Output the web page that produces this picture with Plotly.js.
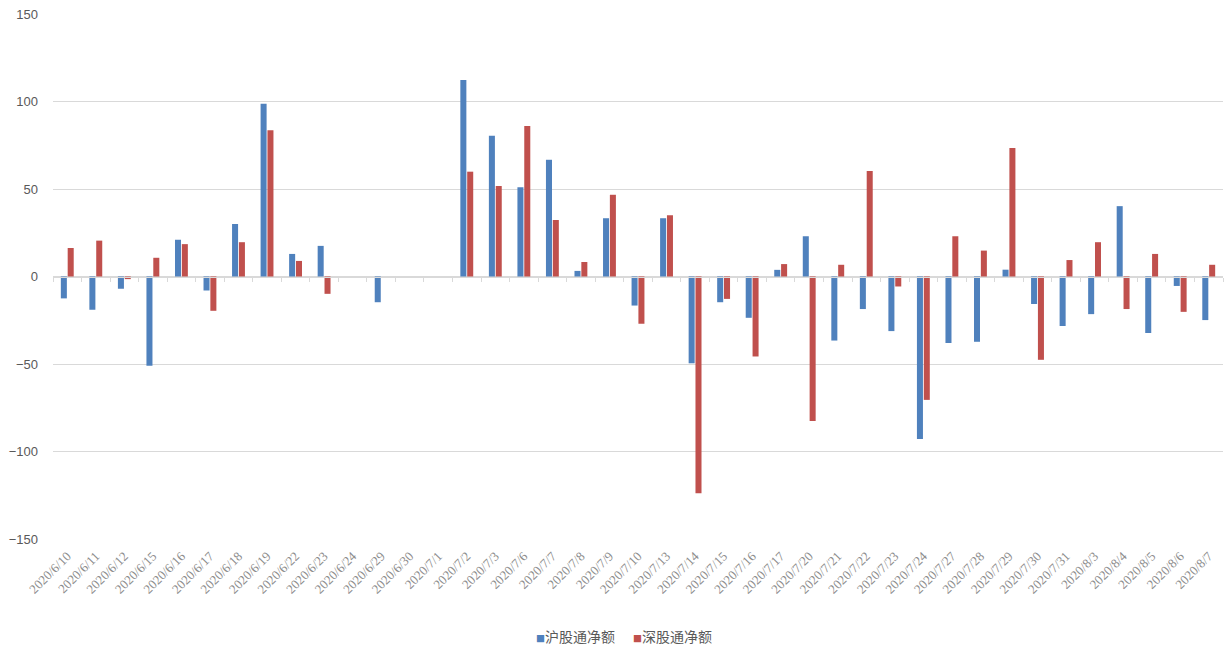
<!DOCTYPE html>
<html>
<head>
<meta charset="utf-8">
<script src="https://cdn.plot.ly/plotly-3.0.1.min.js"></script>
<style>html,body{margin:0;padding:0;background:#fff;}#chart{width:1225px;height:647px;}</style>
</head>
<body>
<div id="chart"></div>
<script>
var dates = ["2020/6/10","2020/6/11","2020/6/12","2020/6/15","2020/6/16","2020/6/17","2020/6/18","2020/6/19","2020/6/22","2020/6/23","2020/6/24","2020/6/29","2020/6/30","2020/7/1","2020/7/2","2020/7/3","2020/7/6","2020/7/7","2020/7/8","2020/7/9","2020/7/10","2020/7/13","2020/7/14","2020/7/15","2020/7/16","2020/7/17","2020/7/20","2020/7/21","2020/7/22","2020/7/23","2020/7/24","2020/7/27","2020/7/28","2020/7/29","2020/7/30","2020/7/31","2020/8/3","2020/8/4","2020/8/5","2020/8/6","2020/8/7"];
var shNet = [-12.5,-19,-7,-51,21,-8,30,98.7,12.9,17.5,null,-14.7,null,null,112.3,80.5,51,66.7,3.2,33.3,-16.6,33.3,-49.6,-14.7,-23.6,3.8,23,-36.6,-18.6,-31.2,-92.9,-38,-37.3,3.9,-15.7,-28.3,-21.5,40.2,-32.3,-5.4,-24.9];
var szNet = [16.3,20.5,-1.5,10.7,18.5,-19.6,19.6,83.6,8.9,-9.9,null,null,null,null,59.9,51.7,86,32.3,8.3,46.7,-27,35,-123.9,-12.8,-45.7,7.1,-82.6,6.7,60.3,-5.7,-70.5,23,14.8,73.4,-47.6,9.4,19.6,-18.6,12.9,-20.2,6.7];
var seriesNames = ["沪股通净额","深股通净额"];
var seriesColors = ["#4f81bd","#c0504d"];
var yTicks = [-150,-100,-50,0,50,100,150];

var traces = [
  {type:"bar", x:dates, y:shNet, name:seriesNames[0], marker:{color:seriesColors[0]}},
  {type:"bar", x:dates, y:szNet, name:seriesNames[1], marker:{color:seriesColors[1]}},
  {type:"bar", x:dates, y:dates.map(function(){return null;}), xaxis:"x2", showlegend:false, hoverinfo:"skip"}
];

var legendX = [0.411, 0.494];
var legendAnnots = seriesNames.map(function(n,i){
  return {xref:"paper", yref:"paper", x:legendX[i], y:-0.185, xanchor:"left", yanchor:"middle",
          showarrow:false,
          text:"<span style='color:"+seriesColors[i]+";font-size:9px'>■</span>"+n,
          font:{family:"Noto Sans CJK SC, sans-serif", size:14, color:"#595959"}};
});

var layout = {
  width:1225, height:647,
  margin:{l:53, r:2, t:14, b:108},
  paper_bgcolor:"#ffffff", plot_bgcolor:"#ffffff",
  barmode:"group", bargap:0.52, bargroupgap:0.12,
  font:{family:"Noto Sans CJK SC, Noto Sans, sans-serif", color:"#595959", size:12},
  showlegend:false,
  xaxis:{type:"category", categoryorder:"array", categoryarray:dates, automargin:false,
         tickangle:-45, ticklabelstandoff:6,
         tickfont:{family:"Liberation Serif, serif", size:13, color:"#8c8c8c"},
         showgrid:false, showline:false, zeroline:false, ticks:"", ticklen:0},
  xaxis2:{type:"category", categoryorder:"array", categoryarray:dates, matches:"x",
          overlaying:"x", anchor:"free", position:0.5, side:"bottom",
          showticklabels:false, showgrid:false, showline:true, linecolor:"#d9d9d9", linewidth:1,
          ticks:"outside", tickson:"boundaries", ticklen:4, tickcolor:"#d9d9d9"},
  yaxis:{range:[-150,150], tickvals:yTicks, automargin:false,
         ticktext:yTicks.map(function(v){return v<0?"\u2212"+Math.abs(v):String(v);}),
         ticklabelstandoff:14,
         showgrid:true, gridcolor:"#d9d9d9", gridwidth:1, zeroline:false,
         showline:false, ticks:"", tickfont:{family:"Liberation Sans, Arial, sans-serif", size:13, color:"#595959"}},
  annotations:legendAnnots
};

Plotly.newPlot("chart", traces, layout, {displayModeBar:false, staticPlot:true});
</script>
</body>
</html>
